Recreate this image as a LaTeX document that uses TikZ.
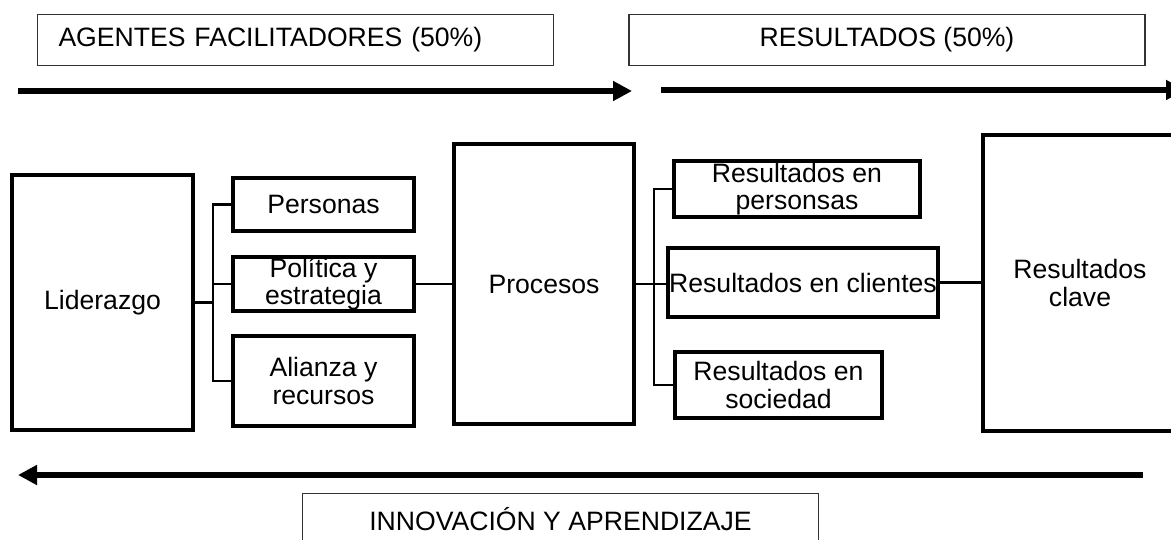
\documentclass[tikz,border=0pt]{standalone}
\usepackage{fontspec}
\setmainfont{Liberation Sans}
\usepackage{tikz}
\usetikzlibrary{arrows.meta}
\usetikzlibrary{positioning}

\begin{document}
\begin{tikzpicture}[x=0.5pt, y=-0.5pt,
    every node/.style={font=\fontsize{13.3}{13.6}\selectfont, align=center, inner sep=0pt},
    box/.style={draw, line width=1.8pt},
    tag/.style={draw=black!80, line width=0.6pt, minimum width=258pt, minimum height=25.5pt},
    link/.style={line width=1.1pt},
    flow/.style={line width=3.2pt, -{Triangle[length=9.5pt, width=9.5pt]}}]
    \useasboundingbox (0, 0) rectangle (1171, 540);

    \node [tag, text width=237pt, align=left] (agentes) at (295.5, 40) {AGENTES FACILITADORES (50\%)};
    \node [tag] (resultados) at (887, 40) {RESULTADOS (50\%)};
    \node [tag] (innov) at (560.5, 519) {INNOVACIÓN Y APRENDIZAJE};

    \coordinate (a1) at (18, 91);
    \coordinate (a2) at (632, 91);
    \coordinate (b1) at (661, 90);
    \coordinate (b2) at (1185, 90);
    \coordinate (c1) at (1143, 475);
    \coordinate (c2) at (18, 475);
    \draw [flow] (a1) -- (a2);
    \draw [flow] (b1) -- (b2);
    \draw [flow] (c1) -- (c2);

    \node [box, minimum width=90.5pt, minimum height=127.5pt] (lid) at (102.5, 302.5) {Liderazgo};
    \node [box, minimum width=90.5pt, minimum height=26.5pt] (pers) at (323.5, 204.5) {Personas};
    \node [box, minimum width=90.5pt, minimum height=27pt] (pol) at (323.5, 284) {};
    \node (polt) at (pol) {Política y\\estrategia};
    \node [box, minimum width=90.5pt, minimum height=45pt] (ali) at (323.5, 381) {Alianza y\\recursos};
    \node [box, minimum width=90pt, minimum height=140pt] (proc) at (544, 284) {Procesos};
    \node [box, minimum width=123pt, minimum height=28pt] (rpers) at (797, 189) {Resultados en\\personsas};
    \node [box, minimum width=135pt, minimum height=34.5pt] (rcli) at (803, 282.5) {Resultados en clientes};
    \node [box, minimum width=103.5pt, minimum height=33pt] (rsoc) at (778.5, 385) {Resultados en\\sociedad};
    \node [box, minimum width=97pt, minimum height=148pt] (rclave) at (1080, 283) {Resultados\\clave};

    % enlaces
    \coordinate (jl) at (213, 302.5);
    \draw [link] (lid) -- (jl);
    \draw [link] (pers.west) -| (jl) |- (ali.west);
    \draw [link] (pol.west) -- (pol.west -| jl);
    \draw [link] (pol.east) -- (proc.west);
    \coordinate (jr) at (654, 284);
    \draw [link] (proc.east) -- (proc.east -| rcli.west);
    \draw [link] (rpers.west) -| (jr) |- (rsoc.west);
    \draw [link] (rcli.east) -- (rcli.east -| rclave.west);
\end{tikzpicture}
\end{document}
